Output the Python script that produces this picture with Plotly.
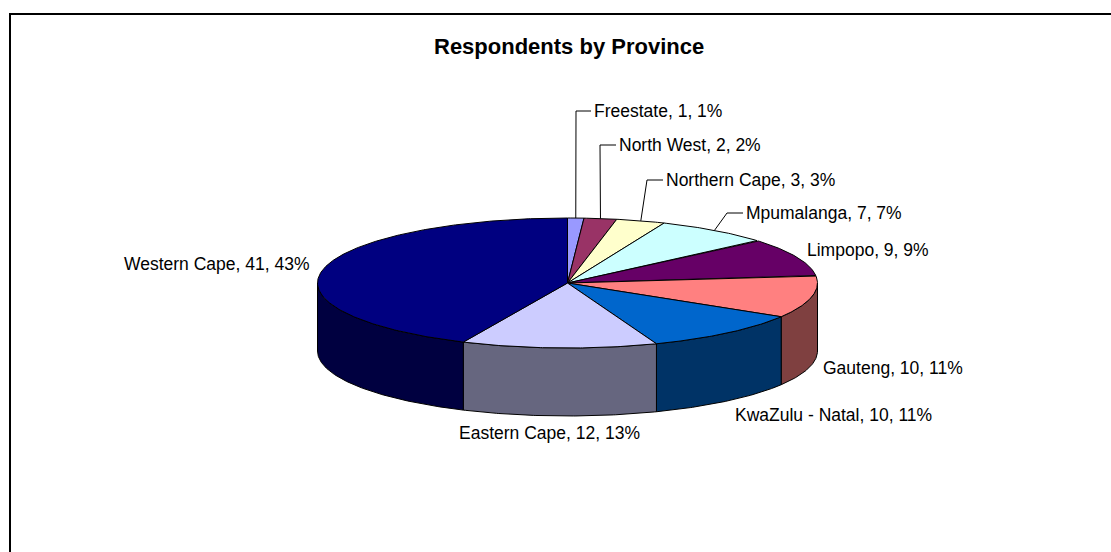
import numpy as np
import plotly.graph_objects as go

# ---- data ----
provinces = ["Freestate", "North West", "Northern Cape", "Mpumalanga", "Limpopo",
             "Gauteng", "KwaZulu - Natal", "Eastern Cape", "Western Cape"]
respondents = [1, 2, 3, 7, 9, 10, 10, 12, 41]
colors = ["#9999FF", "#993366", "#FFFFCC", "#CCFFFF", "#660066",
          "#FF8080", "#0066CC", "#CCCCFF", "#000080"]
title_text = "Respondents by Province"

# ---- layout / geometry (pixel space) ----
W, H = 1111, 552
CX, CY, RX, RY, DEPTH = 567.5, 283.0, 250.0, 65.0, 68.0
FONT = "Liberation Sans, Arial, sans-serif"
LABEL_FS = 17.5

# label anchor (text left x, centre y) and optional leader elbow
label_pos = {
    "Freestate": (593, 111, (576, 111)),
    "North West": (618, 145, (600, 145)),
    "Northern Cape": (665, 180, (647, 180)),
    "Mpumalanga": (745, 213, (727, 213)),
    "Limpopo": (806, 250, None),
    "Gauteng": (822, 368, None),
    "KwaZulu - Natal": (734, 415, None),
    "Eastern Cape": (458, 433, None),
    "Western Cape": (123, 264, None),
}


def darken(h, f=0.5):
    h = h.lstrip("#")
    r, g, b = (int(h[i:i + 2], 16) for i in (0, 2, 4))
    return "#%02X%02X%02X" % (int(r * f), int(g * f), int(b * f))


def rim(theta_deg):
    t = np.radians(theta_deg)
    return CX + RX * np.sin(t), CY - RY * np.cos(t)


total = sum(respondents)
cum = np.concatenate([[0], np.cumsum(respondents)])
starts = cum[:-1] / total * 360.0
ends = cum[1:] / total * 360.0

fig = go.Figure()

# side walls (front half only: 90..270 deg)
for a1, a2, c in zip(starts, ends, colors):
    lo, hi = max(a1, 90.0), min(a2, 270.0)
    if hi <= lo:
        continue
    th = np.linspace(lo, hi, max(3, int((hi - lo) * 2)))
    xs, ys = rim(th)
    px = list(xs) + list(xs[::-1]) + [xs[0]]
    py = list(ys) + list(ys[::-1] + DEPTH) + [ys[0]]
    fig.add_trace(go.Scatter(x=px, y=py, mode="lines", fill="toself",
                             fillcolor=darken(c), line=dict(color="black", width=1),
                             hoverinfo="skip"))

# top faces
for a1, a2, c in zip(starts, ends, colors):
    th = np.linspace(a1, a2, max(3, int((a2 - a1) * 2)))
    xs, ys = rim(th)
    px = [CX] + list(xs) + [CX]
    py = [CY] + list(ys) + [CY]
    fig.add_trace(go.Scatter(x=px, y=py, mode="lines", fill="toself",
                             fillcolor=c, line=dict(color="black", width=1),
                             hoverinfo="skip"))

# labels and leader lines
annotations = []
for name, v, a1, a2 in zip(provinces, respondents, starts, ends):
    pct = int(round(v / total * 100))
    tx, ty, elbow = label_pos[name]
    annotations.append(dict(x=tx, y=ty, xref="x", yref="y", text=f"{name}, {v}, {pct}%",
                            showarrow=False, xanchor="left", yanchor="middle",
                            font=dict(family=FONT, size=LABEL_FS, color="black"),
                            borderpad=0))
    if elbow is not None:
        mx, my = rim((a1 + a2) / 2)
        fig.add_trace(go.Scatter(x=[mx, elbow[0], tx - 2], y=[my, elbow[1], elbow[1]],
                                 mode="lines", line=dict(color="black", width=1),
                                 hoverinfo="skip"))

annotations.append(dict(x=568.5, y=46, xref="x", yref="y", text=f"<b>{title_text}</b>",
                        showarrow=False, xanchor="center", yanchor="middle",
                        font=dict(family=FONT, size=22, color="black")))

fig.update_layout(
    width=W, height=H, autosize=False,
    margin=dict(l=0, r=0, t=0, b=0),
    paper_bgcolor="white", plot_bgcolor="white",
    showlegend=False,
    xaxis=dict(range=[0, W], visible=False, fixedrange=True),
    yaxis=dict(range=[H, 0], visible=False, fixedrange=True),
    annotations=annotations,
    shapes=[dict(type="rect", xref="x", yref="y", x0=10, y0=14, x1=W + 20, y1=H + 20,
                 line=dict(color="black", width=2), fillcolor="rgba(0,0,0,0)", layer="below")],
)

fig.write_html("out.html")
